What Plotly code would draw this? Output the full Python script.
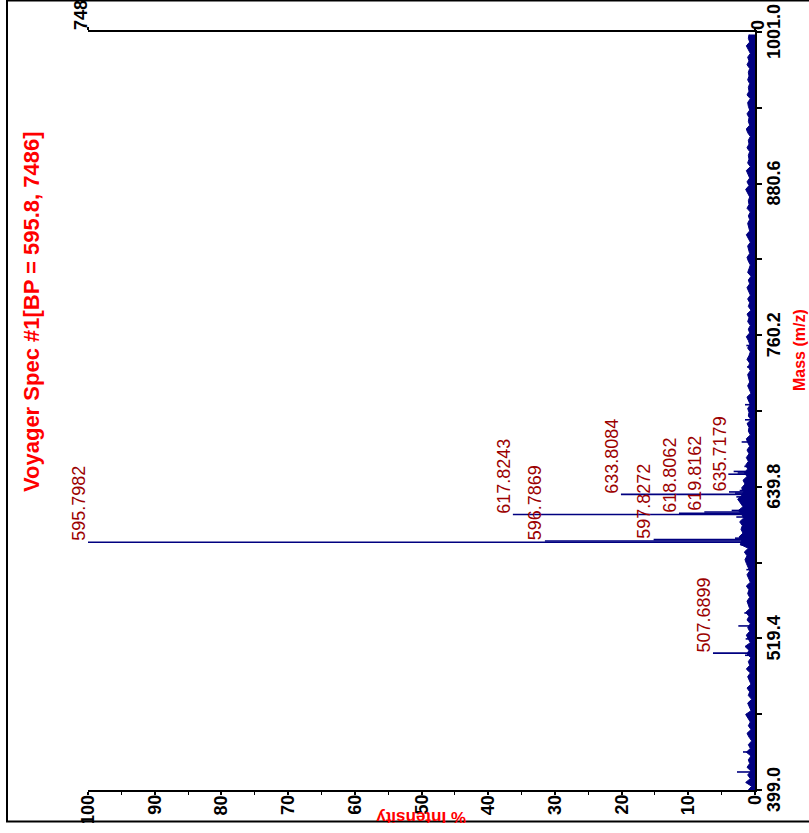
import plotly.graph_objects as go

# ---------------- data ----------------
title_text = "Voyager Spec #1[BP = 595.8, 7486]"
base_peak_counts = 7486

# labelled peaks (m/z, % intensity)
label_mass = [595.7982, 596.7869, 597.8272, 617.8243, 618.8062, 619.8162, 633.8084, 635.7179, 507.6899]
label_int = [100.0, 31.5, 15.2, 36.3, 11.4, 7.6, 20.1, 3.9, 6.3]
label_text = ["595.7982", "596.7869", "597.8272", "617.8243", "618.8062", "619.8162", "633.8084", "635.7179", "507.6899"]

# unlabelled small peaks
minor_mass = [413.3, 429.2, 459.0, 506.0, 519.0, 529.3, 539.6, 574.0, 593.8, 599.0, 615.8, 621.0,
              631.8, 634.8, 636.8, 637.8, 649.8, 650.8, 652.0, 656.0, 675.4, 693.0, 705.0, 735.0, 752.0]
minor_int = [2.7, 1.8, 1.3, 1.5, 1.4, 2.5, 1.6, 1.3, 2.2, 3.0, 2.8, 3.5,
             2.8, 3.0, 2.3, 2.0, 4.0, 2.6, 3.2, 1.6, 2.0, 1.5, 1.5, 1.2, 1.3]

# baseline noise level (% intensity), sampled every 3 Da from 399
noise_level = [
    1.0, 0.5, 1.4, 0.7, 1.1, 0.6, 1.2, 0.8, 1.0, 0.6,
    1.3, 0.7, 1.0, 0.5, 0.9, 1.2, 0.6, 1.0, 0.7, 1.1,
    1.4, 0.6, 0.9, 1.1, 0.5, 1.0, 0.8, 1.2, 0.6, 0.9,
    1.1, 0.7, 1.3, 0.8, 1.0, 0.6, 1.2, 0.9, 1.5, 0.7,
    1.0, 1.3, 0.8, 1.1, 0.7, 1.2, 0.9, 1.4, 0.8, 1.0,
    1.2, 0.8, 1.1, 0.9, 1.3, 0.7, 1.0, 1.2, 0.8, 1.1,
    1.3, 1.5, 1.2, 1.6, 1.0, 2.2, 2.0, 2.4, 1.8, 2.1,
    1.9, 2.3, 1.7, 2.0, 2.5, 1.8, 2.2, 2.6, 2.0, 1.7,
    2.0, 1.5, 1.8, 1.2, 1.6, 1.1, 1.4, 1.0, 1.3, 0.9,
    1.2, 0.8, 1.1, 1.3, 0.7, 1.0, 0.9, 1.2, 0.6, 1.0,
    0.9, 1.1, 0.7, 1.0, 1.2, 0.6, 0.9, 1.1, 0.8, 1.0,
    1.1, 0.7, 1.0, 0.8, 1.2, 0.9, 0.7, 1.1, 0.8, 1.0,
    1.3, 0.8, 1.0, 0.7, 1.1, 0.9, 1.2, 0.6, 1.0, 0.8,
    1.1, 0.7, 0.9, 1.2, 0.8, 1.0, 0.6, 1.1, 0.9, 0.7,
    1.0, 1.2, 0.8, 0.9, 1.1, 0.7, 1.0, 1.3, 0.8, 0.9,
    1.1, 0.8, 1.0, 0.7, 1.2, 0.9, 1.0, 0.8, 1.1, 1.4,
    0.9, 1.2, 0.8, 1.0, 1.3, 0.7, 1.1, 0.9, 1.0, 0.8,
    1.2, 0.9, 1.0, 0.7, 1.1, 1.3, 0.8, 1.0, 0.9, 1.2,
    0.8, 1.0, 1.1, 0.7, 1.2, 0.9, 1.0, 0.8, 1.1, 0.9,
    1.0, 0.8, 1.2, 0.9, 1.1, 0.7, 1.0, 1.3, 0.8, 1.0,
    0.9,
]
noise_start = 399.0
noise_step = 3.0

mass_ticks = [399.0, 519.4, 639.8, 760.2, 880.6, 1001.0]
mass_tick_text = ["399.0", "519.4", "639.8", "760.2", "880.6", "1001.0"]
mass_minor = [459.2, 579.6, 700.0, 820.4, 940.8]
int_ticks = [0, 10, 20, 30, 40, 50, 60, 70, 80, 90, 100]
int_minor = [5, 15, 25, 35, 45, 55, 65, 75, 85, 95]
count_ticks = [base_peak_counts, 0]

# ---------------- styles ----------------
W, H = 809, 823
L, R, T, B = 88, 755, 32, 790
FONT = "Liberation Sans, Arial, sans-serif"
NAVY = "#000080"
LABEL_RED = "#9b0000"
RED = "#ff0000"


def px_x(p):
    return (p - L) / (R - L)


def px_y(p):
    return (B - p) / (B - T)


noise_mass = [noise_start + noise_step * i for i in range(len(noise_level))]

fig = go.Figure()

# noise band
fig.add_trace(go.Scatter(
    x=noise_level, y=noise_mass, mode="lines",
    line=dict(color=NAVY, width=1), fill="tozerox", fillcolor=NAVY,
    hoverinfo="skip", showlegend=False,
))

# stick peaks
sx, sy = [], []
for m, v in list(zip(minor_mass, minor_int)) + list(zip(label_mass, label_int)):
    sx += [0, v, None]
    sy += [m, m, None]
fig.add_trace(go.Scatter(
    x=sx, y=sy, mode="lines", line=dict(color=NAVY, width=1.6),
    hoverinfo="skip", showlegend=False,
))

# invisible trace to activate top counts axis
fig.add_trace(go.Scatter(x=[0, base_peak_counts], y=[mass_ticks[0], mass_ticks[0]],
                         xaxis="x2", yaxis="y", mode="lines",
                         line=dict(width=0), hoverinfo="skip", showlegend=False))

tickfont = dict(family=FONT, size=18, color="black", weight="bold")

fig.update_layout(
    width=W, height=H,
    margin=dict(l=L, r=W - R, t=T, b=H - B, pad=0, autoexpand=False),
    paper_bgcolor="white", plot_bgcolor="white",
    showlegend=False,
    xaxis=dict(
        range=[100, 0], tickmode="array", tickvals=int_ticks, showticklabels=False,
        showline=True, linecolor="black", linewidth=1.5,
        ticks="outside", ticklen=3, tickwidth=1.5, tickcolor="black",
        minor=dict(tickvals=int_minor, ticks="outside", ticklen=3, tickwidth=1, tickcolor="black"),
        showgrid=False, zeroline=False, fixedrange=True, automargin=False,
    ),
    xaxis2=dict(
        overlaying="x", side="top", anchor="y",
        range=[base_peak_counts, 0], tickmode="array",
        tickvals=count_ticks, showticklabels=False,
        showline=True, linecolor="black", linewidth=2,
        ticks="outside", ticklen=3, tickwidth=1.5, tickcolor="black",
        showgrid=False, zeroline=False, automargin=False,
    ),
    yaxis=dict(
        side="right", range=[mass_ticks[0], mass_ticks[-1]], tickmode="array",
        tickvals=mass_ticks, showticklabels=False,
        showline=True, linecolor="black", linewidth=2,
        ticks="outside", ticklen=5, tickwidth=1.5, tickcolor="black",
        minor=dict(tickvals=mass_minor, ticks="outside", ticklen=5, tickwidth=1.5, tickcolor="black"),
        showgrid=False, zeroline=False, automargin=False,
    ),
)

annotations = []
# tick labels (rotated) placed as annotations for exact centring
for m, t in zip(mass_ticks, mass_tick_text):
    annotations.append(dict(
        x=1, y=m, xref="paper", yref="y", text=t, showarrow=False,
        textangle=-90, xanchor="left", yanchor="middle", xshift=8,
        font=tickfont, borderpad=0,
    ))
for v in int_ticks:
    annotations.append(dict(
        x=v, y=0, xref="x", yref="paper", text=str(v), showarrow=False,
        textangle=-90, xanchor="center", yanchor="top", yshift=-4,
        font=tickfont, borderpad=0,
    ))
for c in count_ticks:
    annotations.append(dict(
        x=c, y=1, xref="x2", yref="paper", text=str(c), showarrow=False,
        textangle=-90, xanchor="center", yanchor="bottom", yshift=1,
        xshift=-7 if c else 3,
        font=tickfont, borderpad=0,
    ))

for m, v, t in zip(label_mass, label_int, label_text):
    annotations.append(dict(
        x=v, y=m, xref="x", yref="y", text=t, showarrow=False,
        textangle=-90, xanchor="right", yanchor="bottom",
        font=dict(family=FONT, size=18, color=LABEL_RED), borderpad=0, xshift=2,
    ))

annotations.append(dict(
    x=px_x(31), y=px_y(312), xref="paper", yref="paper", text=title_text,
    showarrow=False, textangle=-90, xanchor="center", yanchor="middle",
    font=dict(family=FONT, size=22, color=RED, weight="bold"),
))
annotations.append(dict(
    x=px_x(799), y=px_y(350), xref="paper", yref="paper", text="Mass (m/z)",
    showarrow=False, textangle=-90, xanchor="center", yanchor="middle",
    font=dict(family=FONT, size=16, color=RED, weight="bold"),
))
annotations.append(dict(
    x=px_x(421), y=px_y(806), xref="paper", yref="paper", text="% Intensity",
    showarrow=False, textangle=180, xanchor="center", yanchor="top",
    font=dict(family=FONT, size=17, color=RED, weight="bold"),
))
fig.update_layout(annotations=annotations)

# outer frame
fig.add_shape(type="rect", xref="paper", yref="paper",
              x0=px_x(7), x1=px_x(815), y0=px_y(821.5), y1=px_y(0.5),
              line=dict(color="black", width=2), fillcolor="rgba(0,0,0,0)", layer="above")

fig.write_html("out.html", config={"displayModeBar": False},
               post_script="document.body.style.margin='0';")
